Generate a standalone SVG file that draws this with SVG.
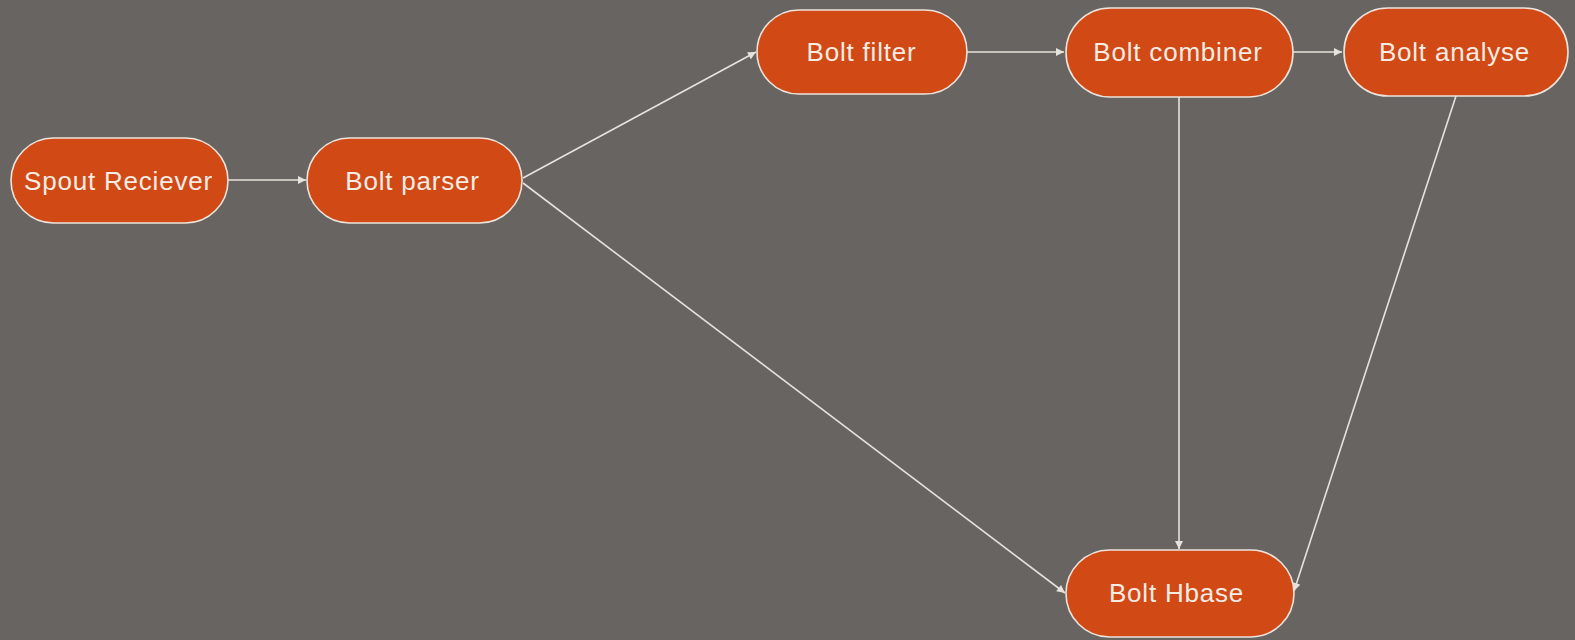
<svg xmlns="http://www.w3.org/2000/svg" width="1575" height="640" viewBox="0 0 1575 640">
  <style>
    .node rect { fill: #d14915; stroke: #ece4dc; stroke-width: 1.6; }
    .node text { fill: #f5ece4; font-family: "Liberation Sans", Arial, sans-serif; font-size: 26px; letter-spacing: 0.8px; text-anchor: middle; }
    .edges line { stroke: #e8e2dc; stroke-width: 1.6; marker-end: url(#arrow); }
  </style>
  <defs>
    <marker id="arrow" viewBox="0 0 10 10" refX="10" refY="5" markerWidth="10" markerHeight="8" markerUnits="userSpaceOnUse" orient="auto">
      <path d="M0,0 L10,5 L0,10 Z" fill="#e8e2dc"/>
    </marker>
  </defs>
  <rect width="1575" height="640" fill="#686462"/>

  <g class="edges">
    <line x1="228" y1="180" x2="306" y2="180"/>
    <line x1="523" y1="178" x2="756" y2="52"/>
    <line x1="523" y1="183" x2="1065" y2="593"/>
    <line x1="967" y1="52" x2="1064" y2="52"/>
    <line x1="1293" y1="52" x2="1342" y2="52"/>
    <line x1="1179" y1="97" x2="1179" y2="549"/>
    <line x1="1456" y1="96" x2="1294" y2="591"/>
  </g>

  <g id="spout-reciever" class="node">
    <rect x="11" y="138" width="217" height="85" rx="42.5"/>
    <text x="118.5" y="190">Spout Reciever</text>
  </g>
  <g id="bolt-parser" class="node">
    <rect x="307" y="138" width="215" height="85" rx="42.5"/>
    <text x="412.5" y="190">Bolt parser</text>
  </g>
  <g id="bolt-filter" class="node">
    <rect x="757" y="10" width="210" height="84" rx="42"/>
    <text x="861.5" y="61">Bolt filter</text>
  </g>
  <g id="bolt-combiner" class="node">
    <rect x="1066" y="8" width="227" height="89" rx="44.5"/>
    <text x="1178" y="61">Bolt combiner</text>
  </g>
  <g id="bolt-analyse" class="node">
    <rect x="1344" y="8" width="224" height="88" rx="44"/>
    <text x="1454.5" y="61">Bolt analyse</text>
  </g>
  <g id="bolt-hbase" class="node">
    <rect x="1066" y="550" width="228" height="87" rx="43.5"/>
    <text x="1176.5" y="602">Bolt Hbase</text>
  </g>
</svg>
